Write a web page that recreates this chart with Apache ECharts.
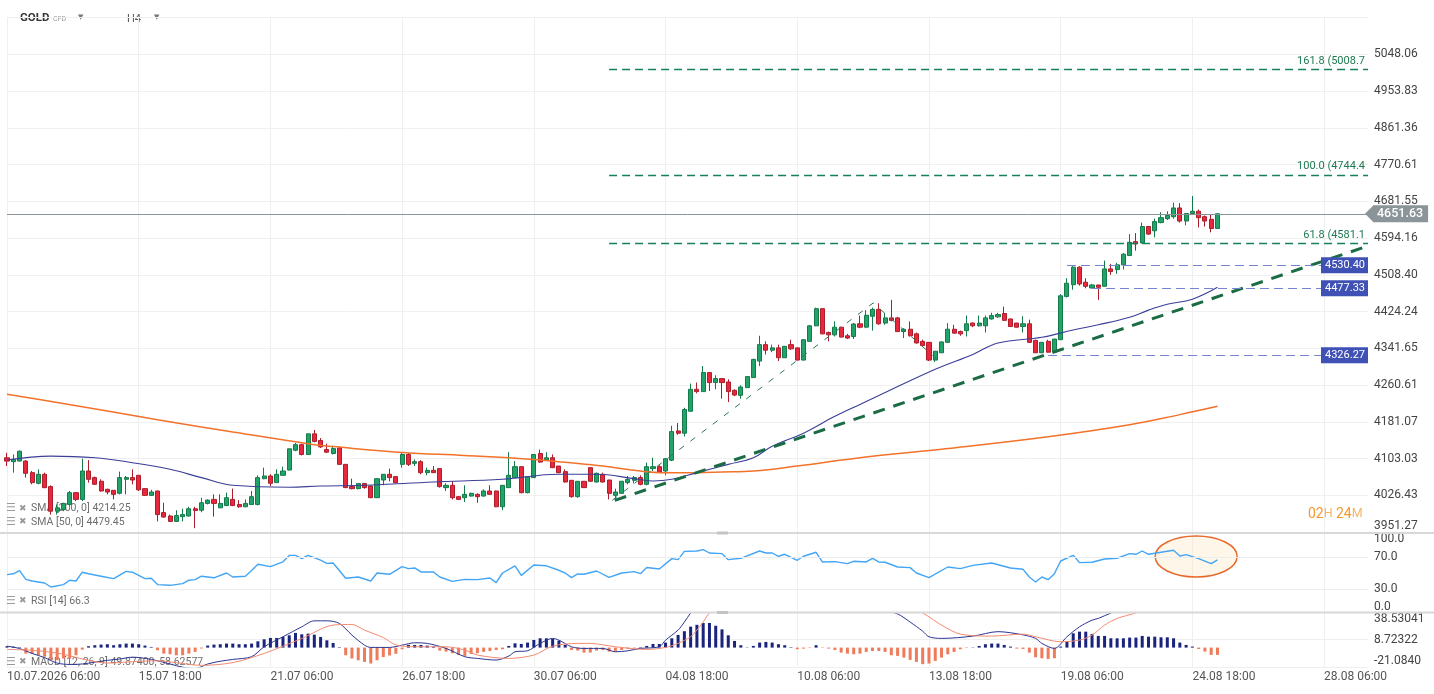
<!DOCTYPE html>
<html>
<head>
<meta charset="utf-8">
<title>GOLD H4</title>
<script src="https://cdn.jsdelivr.net/npm/echarts@6/dist/echarts.min.js"></script>
<style>
  html, body { margin: 0; padding: 0; background: #fff; }
  #chart { width: 1434px; height: 694px; }
</style>
</head>
<body>
<div id="chart"></div>
<script>
// axis tick labels
const priceTicks = ['3951.27', '4026.43', '4103.03', '4181.07', '4260.61', '4341.65', '4424.24',
  '4508.40', '4594.16', '4681.55', '4770.61', '4861.36', '4953.83', '5048.06']
const xLabels = ['10.07.2026 06:00', '15.07 18:00', '21.07 06:00', '26.07 18:00', '30.07 06:00',
  '04.08 18:00', '10.08 06:00', '13.08 18:00', '19.08 06:00', '24.08 18:00', '28.08 06:00']
const xStep = 21      // candles between two time labels
const xSlots = 217    // last slot on the time axis
const rsiTicks = [0, 30, 70, 100]
const macdTicks = [-21.0840, 8.72322, 38.53041]
const macdTickLabels = ['-21.0840', '8.72322', '38.53041']

// H4 candles: [open, close, low, high]
const candles = [
  [4104.6, 4097.6, 4087.2, 4115.0], [4096.3, 4101.1, 4073.4, 4111.5], [4097.6, 4118.4, 4097.0, 4119.8],
  [4097.6, 4072.0, 4063.0, 4099.6], [4073.4, 4052.6, 4049.1, 4076.8], [4051.2, 4069.9, 4049.1, 4080.3],
  [4069.9, 4042.2, 4041.0, 4073.4], [4044.3, 3993.6, 3986.7, 4047.0], [3993.6, 4000.6, 3986.7, 4007.5],
  [3997.1, 4009.6, 3993.6, 4011.0], [4007.5, 4031.8, 4005.4, 4035.2], [4031.8, 4017.9, 4014.4, 4033.1],
  [4017.9, 4076.8, 4014.4, 4102.6], [4076.8, 4059.5, 4052.6, 4099.6], [4063.0, 4049.1, 4048.0, 4065.1],
  [4055.4, 4035.2, 4034.0, 4059.5], [4038.7, 4033.1, 4028.3, 4040.1], [4036.6, 4028.3, 4017.9, 4037.3],
  [4030.4, 4063.0, 4028.3, 4075.5], [4059.5, 4063.0, 4028.3, 4066.4], [4063.0, 4058.0, 4049.1, 4080.3],
  [4067.8, 4037.6, 4035.2, 4068.5], [4040.1, 4026.2, 4024.8, 4040.8], [4026.2, 4033.1, 4024.8, 4037.6],
  [4035.2, 3986.7, 3972.8, 4036.0], [3990.8, 3981.7, 3980.4, 4011.0], [3983.8, 3972.8, 3972.0, 3986.7],
  [3972.8, 3984.6, 3972.0, 3995.6], [3982.5, 3986.7, 3972.8, 3998.6], [3983.8, 3998.6, 3983.0, 4002.7],
  [3998.6, 3995.0, 3959.0, 4002.7], [3995.6, 4011.0, 3991.5, 4021.4], [4009.6, 4016.4, 4007.5, 4017.9],
  [4017.9, 4009.6, 3982.5, 4028.3], [4000.6, 4009.6, 4000.0, 4028.3], [4005.4, 4021.4, 4004.0, 4031.8],
  [4017.9, 4005.4, 4004.0, 4040.1], [4007.5, 4002.7, 4000.6, 4016.4], [4002.7, 4009.6, 4002.0, 4017.9],
  [4007.5, 4023.5, 4007.0, 4035.2], [4007.5, 4063.0, 4005.4, 4067.8], [4060.8, 4066.4, 4059.5, 4083.8],
  [4066.4, 4051.2, 4045.6, 4069.9], [4052.6, 4069.9, 4052.0, 4080.3], [4067.8, 4076.8, 4067.0, 4085.9],
  [4078.8, 4123.4, 4078.0, 4124.0], [4120.4, 4132.3, 4118.4, 4135.8], [4132.3, 4111.5, 4109.4, 4134.4],
  [4111.5, 4155.2, 4111.0, 4156.0], [4155.2, 4139.2, 4137.1, 4163.5], [4141.2, 4127.5, 4125.4, 4146.2],
  [4121.9, 4116.3, 4115.0, 4134.4], [4113.6, 4124.0, 4111.5, 4130.2], [4125.4, 4090.7, 4090.0, 4127.5],
  [4090.7, 4042.2, 4041.5, 4091.0], [4044.3, 4040.1, 4038.7, 4060.8], [4040.1, 4050.6, 4038.7, 4051.0],
  [4050.6, 4042.2, 4040.1, 4051.0], [4045.6, 4021.4, 4021.0, 4046.0], [4021.4, 4060.8, 4021.0, 4061.5],
  [4058.0, 4069.9, 4047.0, 4070.5], [4069.9, 4063.0, 4055.4, 4081.8], [4065.1, 4052.6, 4051.2, 4065.5],
  [4090.7, 4111.5, 4083.8, 4116.3], [4111.5, 4090.7, 4087.2, 4115.0], [4092.8, 4096.3, 4087.2, 4101.1],
  [4096.3, 4073.4, 4069.9, 4099.6], [4073.4, 4078.2, 4067.8, 4083.8], [4078.2, 4073.4, 4073.0, 4087.2],
  [4081.8, 4044.3, 4042.2, 4082.0], [4042.2, 4047.0, 4035.2, 4051.2], [4047.0, 4021.4, 4017.9, 4055.4],
  [4023.5, 4017.9, 4016.4, 4024.8], [4021.4, 4028.3, 4012.3, 4047.0], [4024.8, 4030.4, 4023.5, 4031.8],
  [4028.3, 4023.5, 4011.0, 4030.4], [4024.8, 4035.2, 4023.5, 4038.7], [4035.2, 4028.3, 4028.0, 4047.0],
  [4035.2, 4002.7, 4002.0, 4036.0], [4002.7, 4047.0, 3995.6, 4047.5], [4042.2, 4067.8, 4041.5, 4116.3],
  [4063.0, 4085.9, 4062.0, 4097.6], [4085.9, 4031.8, 4030.4, 4086.5], [4031.8, 4065.1, 4030.4, 4065.5],
  [4063.0, 4111.5, 4062.5, 4112.0], [4113.6, 4095.5, 4094.2, 4121.9], [4099.6, 4104.6, 4099.0, 4116.3],
  [4104.6, 4083.8, 4083.0, 4111.5], [4087.2, 4073.4, 4072.0, 4087.5], [4075.5, 4053.9, 4052.6, 4080.3],
  [4057.4, 4023.5, 4021.4, 4058.0], [4023.5, 4055.3, 4021.4, 4056.0], [4055.3, 4042.2, 4041.5, 4056.0],
  [4083.8, 4055.4, 4053.9, 4084.3], [4053.9, 4072.0, 4052.6, 4073.4], [4069.9, 4053.9, 4052.6, 4073.4],
  [4058.0, 4030.4, 4017.9, 4058.5], [4026.2, 4033.1, 4019.2, 4040.1], [4030.4, 4055.4, 4029.5, 4056.0],
  [4052.6, 4059.5, 4049.1, 4066.4], [4057.4, 4063.0, 4051.2, 4066.4], [4063.0, 4049.1, 4047.0, 4067.8],
  [4049.1, 4085.9, 4047.0, 4094.2], [4081.8, 4085.9, 4076.8, 4104.6], [4085.9, 4074.7, 4074.0, 4088.6],
  [4076.8, 4102.6, 4067.8, 4103.0], [4099.6, 4160.0, 4097.6, 4172.4], [4161.4, 4156.6, 4153.1, 4178.3],
  [4156.6, 4207.4, 4149.6, 4211.1], [4203.7, 4251.2, 4203.0, 4263.7], [4251.2, 4246.2, 4242.4, 4265.9],
  [4246.2, 4287.8, 4245.5, 4302.2], [4287.8, 4265.9, 4247.5, 4288.5], [4265.9, 4274.6, 4251.2, 4281.9],
  [4274.6, 4265.9, 4230.8, 4275.0], [4267.2, 4246.2, 4223.4, 4273.1], [4249.0, 4238.7, 4236.5, 4251.2],
  [4238.1, 4256.2, 4230.8, 4260.0], [4254.9, 4279.0, 4254.0, 4279.5], [4276.8, 4316.9, 4276.0, 4318.4],
  [4313.2, 4349.7, 4302.2, 4369.5], [4349.7, 4337.3, 4327.8, 4357.0], [4337.3, 4342.5, 4332.9, 4349.7],
  [4342.5, 4320.6, 4313.2, 4349.7], [4320.6, 4346.0, 4320.0, 4346.5], [4349.7, 4340.3, 4338.0, 4360.7],
  [4342.5, 4315.4, 4315.0, 4343.0], [4315.4, 4360.7, 4315.0, 4361.0], [4357.0, 4391.8, 4356.5, 4394.0],
  [4391.8, 4430.7, 4391.0, 4433.0], [4430.7, 4373.8, 4373.0, 4431.0], [4376.7, 4371.6, 4357.0, 4378.9],
  [4371.6, 4388.8, 4367.9, 4401.8], [4388.8, 4366.6, 4366.0, 4389.5], [4369.5, 4364.4, 4362.2, 4373.8],
  [4367.9, 4395.8, 4362.2, 4398.1], [4396.5, 4388.8, 4386.5, 4415.1], [4388.8, 4415.8, 4386.5, 4427.4],
  [4413.5, 4429.0, 4381.1, 4433.0], [4429.0, 4396.5, 4394.2, 4443.0], [4398.1, 4409.8, 4394.2, 4421.4],
  [4409.8, 4404.2, 4401.8, 4450.7], [4409.8, 4378.9, 4378.5, 4412.1], [4378.9, 4384.2, 4364.4, 4386.5],
  [4384.2, 4369.5, 4367.9, 4401.8], [4373.8, 4353.5, 4351.9, 4376.7], [4357.0, 4347.6, 4346.0, 4360.7],
  [4354.8, 4315.4, 4313.2, 4355.0], [4315.4, 4335.1, 4311.0, 4335.5], [4331.6, 4355.7, 4331.0, 4357.0],
  [4354.8, 4384.2, 4353.5, 4398.1], [4384.2, 4375.4, 4375.0, 4394.2], [4378.9, 4373.8, 4369.5, 4381.1],
  [4381.1, 4396.5, 4367.9, 4415.1], [4398.1, 4391.9, 4388.8, 4399.5], [4391.9, 4398.1, 4390.3, 4415.1],
  [4391.9, 4409.8, 4376.7, 4415.1], [4407.4, 4415.1, 4405.8, 4421.4], [4412.1, 4417.4, 4409.8, 4421.4],
  [4419.7, 4404.2, 4404.0, 4435.3], [4407.4, 4390.2, 4390.0, 4408.0], [4398.1, 4388.8, 4388.5, 4398.5],
  [4390.2, 4396.5, 4376.7, 4413.5], [4396.5, 4354.8, 4353.5, 4405.8], [4359.2, 4331.6, 4331.0, 4360.7],
  [4331.6, 4354.8, 4331.0, 4355.0], [4357.0, 4332.9, 4332.5, 4360.7], [4332.9, 4362.2, 4331.6, 4362.5],
  [4360.7, 4460.0, 4360.0, 4463.9], [4458.6, 4488.8, 4456.3, 4500.4], [4485.5, 4526.0, 4473.9, 4528.3],
  [4526.0, 4487.2, 4483.2, 4528.3], [4491.1, 4481.8, 4477.2, 4500.4], [4477.9, 4484.8, 4477.2, 4487.2],
  [4484.8, 4479.5, 4450.7, 4485.0], [4481.8, 4522.0, 4481.0, 4541.3], [4522.0, 4515.8, 4508.1, 4533.7],
  [4520.4, 4531.3, 4510.4, 4536.0], [4531.3, 4556.2, 4520.4, 4559.2], [4553.0, 4584.1, 4552.5, 4603.4],
  [4585.5, 4580.2, 4564.6, 4605.7], [4582.5, 4621.3, 4582.0, 4630.6], [4621.3, 4603.4, 4601.8, 4622.8],
  [4611.1, 4633.0, 4595.8, 4639.9], [4630.6, 4642.3, 4629.0, 4655.3], [4639.9, 4647.6, 4636.7, 4657.6],
  [4644.6, 4665.5, 4639.9, 4678.5], [4665.5, 4634.3, 4630.6, 4677.1], [4634.3, 4652.2, 4624.3, 4652.5],
  [4652.2, 4657.6, 4651.0, 4694.1], [4657.6, 4642.3, 4619.0, 4661.6], [4644.6, 4634.3, 4621.3, 4647.6],
  [4638.3, 4616.7, 4607.4, 4649.9], [4616.7, 4651.63, 4616.0, 4652.0]
]

// moving averages: [candle index, value]
const sma200 = [[0, 4240.2], [8, 4222.7], [24, 4185.5], [36, 4159.3], [49, 4132.3], [52, 4128.1],
  [63, 4115.7], [73, 4109.4], [84, 4101.1], [89, 4094.9], [95, 4087.2], [101, 4076.8], [105, 4073.4],
  [110, 4073.4], [114, 4074.7], [119, 4076.8], [126, 4087.2], [136, 4104.6], [150, 4124.0],
  [166, 4149.0], [179, 4174.6], [187, 4196.4], [193, 4214.3]]
const sma50 = [[0, 4099.9], [7, 4108.0], [14, 4104.6], [20, 4094.2], [26, 4080.3], [31, 4063.0],
  [36, 4047.0], [45, 4042.9], [50, 4045.6], [57, 4047.0], [68, 4053.9], [79, 4059.5], [88, 4069.9],
  [94, 4069.9], [100, 4060.9], [103, 4055.9], [106, 4059.5], [110, 4073.4], [115, 4090.7],
  [119, 4104.6], [122, 4128.8], [127, 4156.6], [132, 4192.7], [136, 4218.3], [148, 4295.0],
  [154, 4327.9], [158, 4353.5], [165, 4366.2], [170, 4382.6], [174, 4394.2], [179, 4411.1],
  [182, 4427.4], [185, 4440.7], [189, 4452.3], [193, 4479.5]]

// RSI(14): [candle index, value]
const rsi = [[0, 48], [1, 49], [2, 53], [3, 42], [4, 40], [6, 37.5], [7, 32.5], [9, 35.5], [10, 41],
  [11, 40], [12, 51], [13, 49], [15, 46], [17, 43], [19, 52], [20, 51], [22, 43], [23, 43.4],
  [24, 35.5], [26, 34.6], [28, 36.7], [29, 41], [30, 41.7], [31, 46], [33, 44], [35, 50], [36, 45],
  [38, 46], [39, 53], [40, 61], [42, 58], [44, 64], [45, 72], [46, 72], [47, 68], [48, 72], [50, 66],
  [51, 62], [52, 62.5], [54, 43.4], [56, 45], [58, 40], [59, 50], [61, 48.4], [63, 58], [64, 55.5],
  [65, 56.3], [66, 51.3], [68, 51.3], [69, 45], [71, 39.6], [73, 42], [75, 41.7], [77, 43.8], [78, 38],
  [79, 50], [81, 58.8], [82, 47], [84, 60], [86, 59], [88, 53.4], [89, 50], [90, 44.3], [91, 48.8],
  [92, 48.4], [94, 52.5], [96, 44.5], [98, 50], [100, 51.7], [101, 49.2], [102, 56.8], [104, 55],
  [106, 68], [107, 66.7], [108, 77], [110, 77.5], [111, 79.2], [112, 75], [114, 74.2], [115, 66.7],
  [117, 68.4], [120, 77.5], [121, 75], [122, 75], [123, 70.9], [124, 73.4], [126, 65.9], [127, 70.9],
  [129, 75.9], [130, 63.8], [132, 64.2], [134, 61.7], [135, 64.6], [137, 63.8], [138, 68.4],
  [139, 63.8], [140, 63.4], [142, 57.5], [144, 56.7], [145, 50], [147, 44.2], [150, 57.5], [152, 55.5],
  [154, 59.6], [157, 62.5], [160, 56.3], [162, 54.6], [163, 45], [164, 38.8], [165, 45], [166, 41.7],
  [167, 49.2], [168, 65], [170, 72.1], [171, 63], [173, 63.4], [175, 67.5], [177, 68.4], [179, 74.2],
  [180, 73.4], [181, 77.5], [182, 73.4], [184, 75.9], [186, 78.4], [187, 71.3], [188, 73], [190, 68],
  [192, 61.7], [193, 66.3]]

// MACD(12,26,9) histogram, one value per candle
const macdHist = [
  1.5, 1.0, 0.5, -6.6, -6.6, -8.4, -10, -13.9, -13.9, -12,
  -12, -8.4, -2.2, 1.5, 2.6, 3.3, 3.7, 2.6, 3.7, 4.4,
  4.4, 3.7, 2.2, 0.7, -2.9, -6.6, -7.3, -8.4, -8.4, -6.6,
  -4.7, -1, 2.2, 3.3, 3.7, 4.4, 4.4, 3.7, 3.7, 4.4,
  6.9, 9.1, 10.6, 10.6, 11.7, 13.5, 16.1, 14.6, 15.3, 14.2,
  11.7, 8, 5.1, 0.5, -8.4, -12, -13.9, -15.7, -17.5, -13.9,
  -10.4, -8.7, -6.8, -1.8, 2.9, 2.9, 2.9, 2.2, 1.1, -3.3,
  -4.4, -6.2, -8, -9.1, -6.9, -6.2, -4.7, -3.7, -2.6, -1.8,
  1.8, 4.7, 4, 5.5, 8.4, 10.2, 10.2, 9.5, 7.7, 2.9,
  -2.6, -3.3, -5.5, -5.5, -3.3, -2.6, -4.4, -4.4, -2.6, -1.5,
  -0.5, 0.5, 1.8, 4, 4, 5.5, 10.2, 13.9, 18, 23,
  25, 27, 27, 24, 20, 13.5, 7.3, 2.6, 0.3, 1.8,
  5.5, 6.2, 5.5, 3.7, 2.6, 0.5, -1.8, -1.1, -0.5, 2.6,
  -0.5, -1.1, -2.6, -5.5, -6.6, -7.3, -6.6, -4.7, -3.7, -3.7,
  -4.7, -8.4, -9.1, -11, -13.5, -15.7, -18.2, -17.5, -14.6, -11,
  -7.3, -4.7, -1.8, -0.5, 0.3, 1.8, 3.7, 4.4, 4.4, 2.9,
  1.1, -1.1, -1.5, -5.5, -10.6, -11.7, -12.4, -11.7, 1.1, 6.6,
  15.7, 17.5, 17.5, 15, 12.8, 12.8, 10.2, 10.2, 10.2, 11,
  11, 12.8, 12, 12, 11.3, 11.3, 10.2, 5.5, 2.9, 1.1,
  -1.5, -4.4, -8, -8
]
const macdLine = [[0, 1.6], [2, -1], [4, -6.4], [6, -11], [8, -17], [10, -18.5], [12, -18], [14, -16],
  [16, -14], [18, -12.5], [20, -10.5], [23, -13], [26, -18], [28, -21.5], [30, -23], [32, -18],
  [34, -15], [36, -13], [39, -10], [41, 0.9], [44, 11.9], [47, 22.8], [49, 29.4], [51, 29.4],
  [53, 26.5], [55, 13.7], [57, 2.7], [58, 0.2], [61, 0.2], [63, 2.7], [65, 5.3], [67, 4.6], [70, -0.9],
  [73, -10], [75, -11.9], [78, -13.7], [80, -9.3], [81, -4.6], [83, -3.5], [85, 4.6], [87, 10.1],
  [88, 8.2], [90, 0.9], [92, -0.9], [95, -0.9], [97, -4.6], [99, -3.5], [101, -0.9], [104, 0.9],
  [105, 8.2], [107, 19.2], [108, 28], [109, 38], [110, 46], [111, 52], [113, 58], [116, 54], [118, 50],
  [122, 52], [126, 48], [130, 46], [134, 43], [138, 41], [140, 40], [142, 37], [144, 28], [146, 18],
  [147, 11.9], [149, 10.1], [154, 12.6], [158, 17.5], [162, 14], [164, 10.1], [165, 4.6], [167, -0.9],
  [169, 11.9], [171, 22.8], [173, 30.1], [174, 32], [176, 38], [180, 49], [184, 58], [187, 61],
  [190, 57], [193, 49.874]]
const macdSignal = [[0, -2], [4, -3], [8, -6], [10, -9], [13, -14], [16, -17], [20, -15.5], [24, -14.5],
  [27, -16.5], [31, -19.5], [36, -16.5], [41, -6.4], [47, 10], [52, 24.7], [55, 25.4], [57, 19.2],
  [60, 11], [62, 3], [65, 0.9], [70, 0.9], [73, -2.7], [75, -8.2], [80, -11.9], [84, -8.2], [87, 1.6],
  [91, 4.6], [93, 4.6], [97, 0.9], [102, -2], [105, 0.2], [107, 4.6], [109, 12], [110, 19.2], [111, 28],
  [112, 37.8], [114, 46], [118, 50], [124, 50], [130, 48], [136, 47], [140, 46], [142, 46], [144, 43],
  [146, 38], [149, 24.7], [152, 14.8], [157, 12.6], [162, 14.8], [164, 11.9], [168, 6.4], [171, 8.2],
  [173, 13.7], [175, 24.7], [177, 32], [180, 38], [184, 47], [187, 55], [190, 58], [193, 58.626]]

// drawings on the price panel
const fibRatios = ['161.8', '100.0', '61.8']
const fibLevels = [5008.7, 4744.4, 4581.1]
const fibStart = 96
const fibLegs = [[96.5, 4016.1], [138.1, 4443.6], [148.3, 4316.9]]
const trendLine = [[96.9, 4016.0], [217, 4575.5]]
const levelPrices = [4530.40, 4477.33, 4326.27]
const levelStarts = [169, 173, 166]
const lastPrice = 4651.63
const rsiMark = [189.6, 70.6]

// price panel is log scaled: one tick step = one unit
const p0 = parseFloat(priceTicks[0])
const pN = parseFloat(priceTicks[priceTicks.length - 1])
const steps = priceTicks.length - 1
const toT = p => steps * Math.log(p / p0) / Math.log(pN / p0)

const UP = '#22a36a', UP_B = '#157a4a', DN = '#e8283c', DN_B = '#ad1d2b'
const FIB = '#17805a'
const FONT = 'Roboto, sans-serif'
const G_LEFT = 7, G_RIGHT = 66

const chart = echarts.init(document.getElementById('chart'))

const xAxisFor = (gi, labels) => ({
  type: 'value', gridIndex: gi, min: 0, max: xSlots, interval: xStep,
  axisLine: { show: false }, axisTick: { show: false },
  splitLine: { show: true, showMaxLine: false, lineStyle: { color: '#efefef', width: 1 } },
  axisLabel: labels ? {
    show: true, color: '#555', fontSize: 12, fontFamily: FONT, margin: 4, align: 'left',
    showMaxLabel: false,
    formatter: v => (v % xStep === 0 ? (xLabels[v / xStep] || '') : '')
  } : { show: false }
})

const macdStep = macdTicks[1] - macdTicks[0]
const rsiLabel = v => (rsiTicks.indexOf(v) >= 0 ? v.toFixed(1) : '')

const legendText = (txt, cy, id) => [
  { type: 'text', id: id + 'i', z: 1, style: { x: 6, y: cy, text: '☰', fill: '#9a9a9a', font: '11px DejaVu Sans', verticalAlign: 'middle' } },
  { type: 'text', id: id + 'x', z: 1, style: { x: 19, y: cy, text: '✖', fill: '#9a9a9a', font: '9px DejaVu Sans', verticalAlign: 'middle' } },
  { type: 'text', id: id + 't', z: 1, style: { x: 31, y: cy, text: txt, fill: '#6e6e6e', font: '10.5px ' + FONT, verticalAlign: 'middle' } }
]

// fib extension levels, carried by the fib legs series
const fibMarks = fibRatios.map((r, k) => [
  { coord: [fibStart, toT(fibLevels[k])], label: { formatter: r + ' (' + fibLevels[k] } },
  { coord: [xSlots, toT(fibLevels[k])] }
])

// horizontal levels and the last price, carried by the candles
const markData = []
levelPrices.forEach((p, k) => {
  markData.push([
    {
      coord: [levelStarts[k], toT(p)],
      lineStyle: { color: '#7584d2', type: [9, 5], width: 1.2 },
      label: { show: true, position: 'insideEnd', distance: 0, formatter: p.toFixed(2),
        color: '#fff', backgroundColor: '#3f51b5', padding: [3, 3, 2, 4], fontSize: 11, fontFamily: FONT }
    },
    { coord: [xSlots, toT(p)] }
  ])
})
markData.push([
  {
    coord: [0, toT(lastPrice)],
    lineStyle: { color: '#8b9599', type: 'solid', width: 1 },
    label: { show: true, position: 'end', distance: 5, formatter: lastPrice.toFixed(2),
      color: '#fff', backgroundColor: '#8b9599', padding: [2, 5, 2, 4], lineHeight: 13,
      fontSize: 12.5, fontWeight: 500, fontFamily: FONT }
  },
  { coord: [xSlots, toT(lastPrice)] }
])

chart.setOption({
  animation: false,
  backgroundColor: '#fff',
  textStyle: { fontFamily: FONT },
  grid: [
    { left: G_LEFT, right: G_RIGHT, top: 17.5, height: 514.5, outerBoundsMode: 'none' },
    { left: G_LEFT, right: G_RIGHT, top: 533, height: 80, outerBoundsMode: 'none' },
    { left: G_LEFT, right: G_RIGHT, top: 612.5, height: 54.3, outerBoundsMode: 'none' }
  ],
  xAxis: [xAxisFor(0, false), xAxisFor(1, false), xAxisFor(2, true)],
  yAxis: [
    {
      type: 'value', gridIndex: 0, position: 'right', min: 0, max: 14, interval: 1,
      axisLine: { show: false }, axisTick: { show: false },
      splitLine: { lineStyle: { color: '#f0f0f0' } },
      axisLabel: { color: '#444', fontSize: 12, fontFamily: FONT, margin: 6,
        verticalAlignMinLabel: 'bottom',
        formatter: v => priceTicks[Math.round(v)] || '' }
    },
    {
      type: 'value', gridIndex: 1, position: 'right', min: 0, max: 100, interval: 10,
      axisLine: { show: false }, axisTick: { show: false }, splitLine: { show: false },
      axisLabel: { color: '#444', fontSize: 12, fontFamily: FONT, margin: 6,
        verticalAlignMinLabel: 'bottom', verticalAlignMaxLabel: 'top', formatter: rsiLabel }
    },
    {
      type: 'value', gridIndex: 2, position: 'right', min: macdTicks[0], max: macdTicks[0] + 2 * macdStep,
      interval: macdStep,
      axisLine: { show: false }, axisTick: { show: false },
      splitLine: { lineStyle: { color: '#efefef' } },
      axisLabel: { color: '#444', fontSize: 12, fontFamily: FONT, margin: 6,
        verticalAlignMinLabel: 'bottom', verticalAlignMaxLabel: 'top',
        formatter: v => macdTickLabels[Math.round((v - macdTicks[0]) / macdStep)] || '' }
    }
  ],
  series: [
    {
      type: 'candlestick', name: 'GOLD', xAxisIndex: 0, yAxisIndex: 0, clip: false, barWidth: 4.6, z: 2,
      data: candles.map((c, i) => [i, toT(c[0]), toT(c[1]), toT(c[2]), toT(c[3])]),
      itemStyle: { color: UP, color0: DN, borderColor: UP_B, borderColor0: DN_B, borderWidth: 1 },
      markLine: { silent: true, symbol: ['none', 'none'], animation: false, data: markData }
    },
    {
      type: 'line', name: 'SMA200', xAxisIndex: 0, yAxisIndex: 0, showSymbol: false, smooth: 0.4, z: 3,
      data: sma200.map(d => [d[0], toT(d[1])]),
      lineStyle: { color: '#f2722a', width: 1.5 }
    },
    {
      type: 'line', name: 'SMA50', xAxisIndex: 0, yAxisIndex: 0, showSymbol: false, smooth: 0.4, z: 3,
      data: sma50.map(d => [d[0], toT(d[1])]),
      lineStyle: { color: '#3b3e98', width: 1.1 }
    },
    {
      type: 'line', name: 'trend', xAxisIndex: 0, yAxisIndex: 0, showSymbol: false, z: 4, silent: true,
      data: trendLine.map(d => [d[0], toT(d[1])]),
      lineStyle: { color: '#1b6b45', width: 3, type: [12, 9] }
    },
    {
      type: 'line', name: 'fib', xAxisIndex: 0, yAxisIndex: 0, showSymbol: false, z: 4, silent: true,
      color: FIB,
      data: fibLegs.map(d => [d[0], toT(d[1])]),
      lineStyle: { color: '#2b7a55', width: 1, type: [6, 8] },
      markLine: {
        silent: true, symbol: ['none', 'none'], animation: false,
        lineStyle: { color: FIB, type: [8, 5], width: 1.3, opacity: 1 },
        label: { show: true, position: 'insideEndTop', distance: 3, color: '#1e7a52', fontSize: 11, fontFamily: FONT },
        emphasis: { disabled: true },
        data: fibMarks
      }
    },
    {
      type: 'line', name: 'RSI', xAxisIndex: 1, yAxisIndex: 1, showSymbol: false, z: 3,
      data: rsi,
      lineStyle: { color: '#42a5f5', width: 1.4 },
      markLine: {
        silent: true, symbol: ['none', 'none'], label: { show: false },
        lineStyle: { color: '#ececec', type: 'solid', width: 1 },
        data: [{ yAxis: rsiTicks[1] }, { yAxis: rsiTicks[2] }]
      }
    },
    {
      type: 'bar', name: 'hist', xAxisIndex: 2, yAxisIndex: 2, barWidth: 3, z: 2,
      data: macdHist.map((v, i) => ({ value: [i, v], itemStyle: { color: v >= 0 ? '#1a237e' : '#ef7b5b' } }))
    },
    {
      type: 'line', name: 'MACD', xAxisIndex: 2, yAxisIndex: 2, showSymbol: false, smooth: 0.3, z: 3,
      data: macdLine, lineStyle: { color: '#2b3590', width: 1 }
    },
    {
      type: 'line', name: 'signal', xAxisIndex: 2, yAxisIndex: 2, showSymbol: false, smooth: 0.3, z: 3,
      data: macdSignal, lineStyle: { color: '#f28a70', width: 1 }
    }
  ],
  graphic: [
    { type: 'rect', id: 'sep1', z: 5, shape: { x: 0, y: 532, width: 1434, height: 2 }, style: { fill: '#d8d8d8' } },
    { type: 'rect', id: 'sep2', z: 5, shape: { x: 0, y: 611.5, width: 1434, height: 2 }, style: { fill: '#d8d8d8' } },
    { type: 'rect', id: 'h1', z: 6, shape: { x: 717, y: 531.5, width: 11, height: 3 }, style: { fill: '#c4c4c4' } },
    { type: 'rect', id: 'h2', z: 6, shape: { x: 717, y: 611, width: 11, height: 3 }, style: { fill: '#c4c4c4' } },
    { type: 'text', id: 'sym', style: { x: 20, y: 18.5, text: 'GOLD', fill: '#333', font: 'bold 11.5px ' + FONT, verticalAlign: 'middle' } },
    { type: 'text', id: 'cfd', style: { x: 53, y: 19, text: 'CFD', fill: '#999', font: '7px ' + FONT, verticalAlign: 'middle' } },
    { type: 'text', id: 'dd1', style: { x: 78, y: 17, text: '▼', fill: '#777', font: '7px DejaVu Sans', verticalAlign: 'middle' } },
    { type: 'text', id: 'tf', style: { x: 127, y: 19, text: 'H4', fill: '#555', font: '11px Roboto', verticalAlign: 'middle' } },
    { type: 'text', id: 'dd2', style: { x: 154, y: 17, text: '▼', fill: '#777', font: '7px DejaVu Sans', verticalAlign: 'middle' } },
    {
      type: 'text', id: 'cd', z: 5,
      style: {
        x: 1308, y: 514, verticalAlign: 'middle', text: '{n|02}{u|H} {n|24}{u|M}',
        rich: { n: { fill: '#f39a2e', fontSize: 14, fontFamily: FONT }, u: { fill: '#f6b464', fontSize: 12.5, fontFamily: FONT } }
      }
    },
    ...legendText('SMA [200, 0] 4214.25', 508.5, 'l1'),
    ...legendText('SMA [50, 0] 4479.45', 522, 'l2'),
    ...legendText('RSI [14] 66.3', 601, 'l3'),
    ...legendText('MACD [12, 26, 9] 49.87400, 58.62577', 662, 'l4')
  ]
})

// price tag arrow and the RSI highlight need pixel positions
const tagY = chart.convertToPixel({ gridIndex: 0 }, [0, toT(lastPrice)])[1]
const tagX = 1434 - G_RIGHT
const mark = chart.convertToPixel({ gridIndex: 1 }, rsiMark)
chart.setOption({
  graphic: [
    { type: 'polygon', id: 'tag', z: 6, shape: { points: [[tagX - 3, tagY], [tagX + 5.5, tagY - 8.5], [tagX + 5.5, tagY + 8.5]] }, style: { fill: '#8b9599' } },
    { type: 'ellipse', id: 'hl', z: 1, shape: { cx: mark[0], cy: mark[1], rx: 41, ry: 20.5 },
      style: { fill: 'rgba(255,228,196,0.35)', stroke: '#e8692a', lineWidth: 1.5 } }
  ]
})
</script>
</body>
</html>
